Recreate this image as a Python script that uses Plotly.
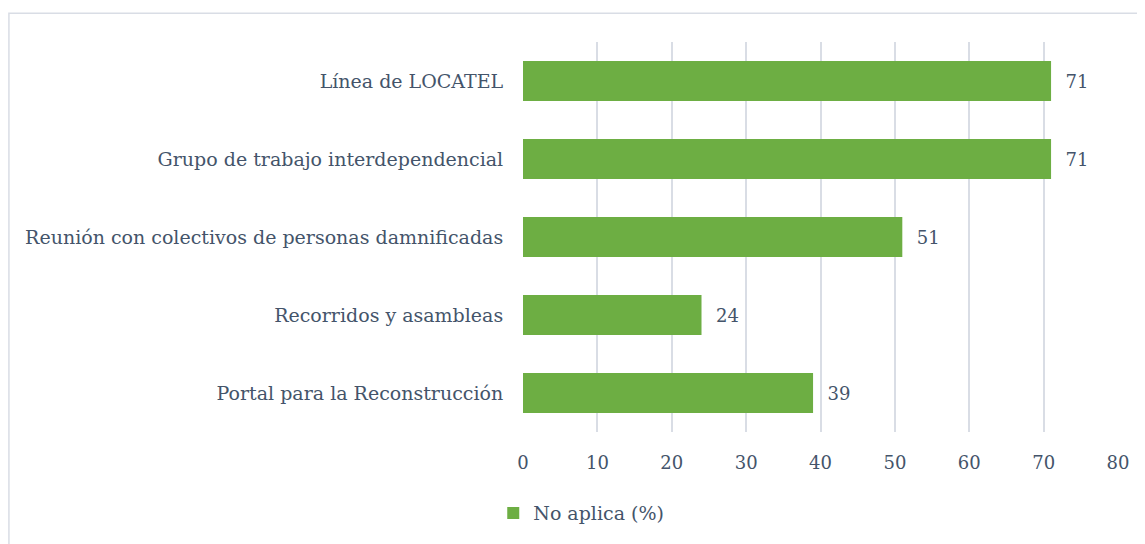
import plotly.graph_objects as go

categorias = [
    "Línea de LOCATEL",
    "Grupo de trabajo interdependencial",
    "Reunión con colectivos de personas damnificadas",
    "Recorridos y asambleas",
    "Portal para la Reconstrucción",
]
no_aplica = [71, 71, 51, 24, 39]
ticks_x = [0, 10, 20, 30, 40, 50, 60, 70, 80]

texto = "#44546A"
fuente = "DejaVu Serif"

fig = go.Figure()
fig.add_trace(go.Bar(
    y=categorias,
    x=no_aplica,
    orientation="h",
    name="No aplica (%)",
    marker=dict(color="#6DAE43", line=dict(width=0)),
    width=0.51,
    text=[str(v) for v in no_aplica],
    texttemplate="  %{x}",
    textposition="outside",
    textfont=dict(family=fuente, size=18, color=texto),
    cliponaxis=False,
))

# la página tiene 8px de margen en el body
fig.update_layout(
    width=1145,
    height=544,
    paper_bgcolor="white",
    plot_bgcolor="white",
    margin=dict(l=515, r=35, t=34, b=120),
    font=dict(family=fuente, size=19, color=texto),
    showlegend=True,
    legend=dict(
        orientation="h",
        x=-0.05, y=-0.208,
        xanchor="left", yanchor="middle",
        font=dict(family=fuente, size=19, color=texto),
        itemwidth=30,
    ),
    xaxis=dict(
        range=[0, 80],
        tickvals=ticks_x,
        tickfont=dict(size=18),
        showgrid=True,
        gridcolor="#D9DDE5",
        gridwidth=1.5,
        zeroline=False,
        showline=False,
        ticks="outside",
        ticklen=14,
        tickcolor="rgba(0,0,0,0)",
    ),
    yaxis=dict(
        autorange="reversed",
        showgrid=False,
        zeroline=False,
        showline=False,
        ticks="outside",
        ticklen=15,
        tickcolor="rgba(0,0,0,0)",
    ),
    shapes=[dict(
        type="rect", xref="paper", yref="paper",
        x0=-0.864, x1=1.06, y0=-0.32, y1=1.074,
        line=dict(color="#D9DDE5", width=1.5),
        fillcolor="rgba(0,0,0,0)",
        layer="below",
    )],
)

fig.write_html("out.html")
